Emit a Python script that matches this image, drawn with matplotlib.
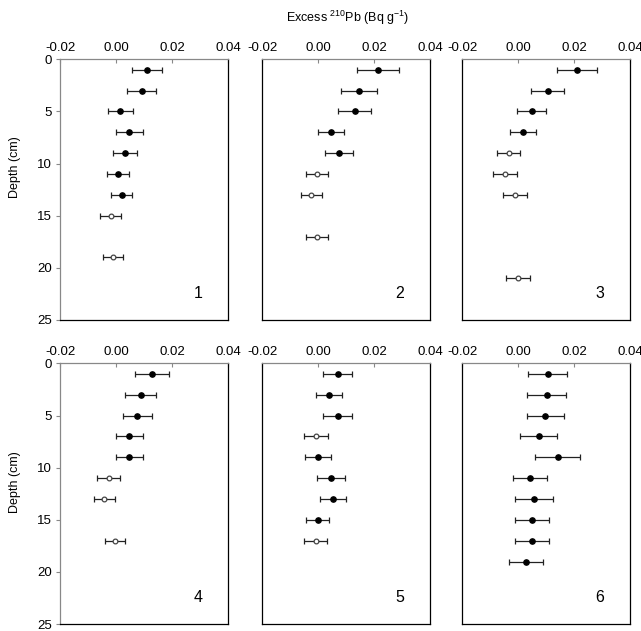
import matplotlib.pyplot as plt

plt.rcParams['font.family'] = ['Liberation Sans', 'DejaVu Sans']
plt.rcParams['mathtext.fontset'] = 'custom'
plt.rcParams['mathtext.rm'] = 'Liberation Sans'
plt.rcParams['mathtext.it'] = 'Liberation Sans'

# depth (cm), excess 210Pb (Bq g-1), error, open marker flag -- one set per core
depth1 = [1, 3, 5, 7, 9, 11, 13, 15, 19]
pb1 = [0.0110, 0.0091, 0.0015, 0.0047, 0.0031, 0.0006, 0.0019, -0.0020, -0.0012]
err1 = [0.0055, 0.0051, 0.0044, 0.0048, 0.0044, 0.0038, 0.0038, 0.0037, 0.0036]
open1 = [0, 0, 0, 0, 0, 0, 0, 1, 1]

depth2 = [1, 3, 5, 7, 9, 11, 13, 17]
pb2 = [0.0214, 0.0146, 0.0130, 0.0047, 0.0075, -0.0004, -0.0025, -0.0004]
err2 = [0.0076, 0.0064, 0.0060, 0.0047, 0.0050, 0.0040, 0.0038, 0.0040]
open2 = [0, 0, 0, 0, 0, 1, 1, 1]

depth3 = [1, 3, 5, 7, 9, 11, 13, 21]
pb3 = [0.0210, 0.0105, 0.0049, 0.0017, -0.0034, -0.0046, -0.0010, -0.0001]
err3 = [0.0072, 0.0059, 0.0052, 0.0046, 0.0041, 0.0043, 0.0043, 0.0044]
open3 = [0, 0, 0, 0, 1, 1, 1, 1]

depth4 = [1, 3, 5, 7, 9, 11, 13, 17]
pb4 = [0.0127, 0.0088, 0.0075, 0.0047, 0.0047, -0.0027, -0.0043, -0.0004]
err4 = [0.0060, 0.0055, 0.0052, 0.0047, 0.0049, 0.0040, 0.0037, 0.0036]
open4 = [0, 0, 0, 0, 0, 1, 1, 1]

depth5 = [1, 3, 5, 7, 9, 11, 13, 15, 17]
pb5 = [0.0070, 0.0038, 0.0070, -0.0008, -0.0001, 0.0046, 0.0054, -0.0001, -0.0008]
err5 = [0.0051, 0.0047, 0.0051, 0.0044, 0.0047, 0.0050, 0.0047, 0.0041, 0.0041]
open5 = [0, 0, 0, 1, 0, 0, 0, 0, 1]

depth6 = [1, 3, 5, 7, 9, 11, 13, 15, 17, 19]
pb6 = [0.0105, 0.0102, 0.0097, 0.0073, 0.0141, 0.0041, 0.0057, 0.0049, 0.0049, 0.0029]
err6 = [0.0071, 0.0069, 0.0067, 0.0067, 0.0080, 0.0061, 0.0067, 0.0060, 0.0060, 0.0061]
open6 = [0, 0, 0, 0, 0, 0, 0, 0, 0, 0]

cores = [
    (depth1, pb1, err1, open1),
    (depth2, pb2, err2, open2),
    (depth3, pb3, err3, open3),
    (depth4, pb4, err4, open4),
    (depth5, pb5, err5, open5),
    (depth6, pb6, err6, open6),
]
panel_labels = ['1', '2', '3', '4', '5', '6']
xticks = [-0.02, 0.00, 0.02, 0.04]
yticks = [0, 5, 10, 15, 20, 25]

fig = plt.figure(figsize=(6.41, 6.31), dpi=100)
lefts = [0.094, 0.409, 0.721]
bottoms = [0.493, 0.011]
w, h = 0.262, 0.413

for i, (d, x, e, op) in enumerate(cores):
    row, col = divmod(i, 3)
    ax = fig.add_axes([lefts[col], bottoms[row], w, h])
    ax.errorbar(x, d, xerr=e, fmt='none', ecolor='#222222', elinewidth=0.9,
                capsize=2.5, capthick=0.9, zorder=2)
    for xi, di, oi in zip(x, d, op):
        if oi:
            ax.plot(xi, di, 'o', ms=3.4, mfc='white', mec='#444444', mew=0.9, zorder=3)
        else:
            ax.plot(xi, di, 'o', ms=3.8, mfc='black', mec='black', zorder=3)
    ax.set_xlim(-0.02, 0.04)
    ax.set_ylim(25, 0)
    ax.xaxis.tick_top()
    ax.set_xticks(xticks)
    ax.set_xticklabels(['%.2f' % t for t in xticks], fontsize=9.5)
    ax.tick_params(axis='x', direction='in', length=3, pad=4, color='#888888')
    for s in ['right', 'bottom']:
        ax.spines[s].set_color('black')
    ax.spines['top'].set_color('#888888')
    if col == 0:
        ax.set_yticks(yticks)
        ax.set_yticklabels([str(t) for t in yticks], fontsize=9.5)
        ax.tick_params(axis='y', direction='out', length=3, pad=3, color='#888888')
        ax.spines['left'].set_color('#888888')
    else:
        ax.set_yticks([])
        ax.spines['left'].set_color('black')
    for s in ax.spines.values():
        s.set_linewidth(0.9)
    ax.text(0.82, 0.10, panel_labels[i], transform=ax.transAxes, fontsize=11.5,
            ha='center', va='center')

fig.text(0.543, 0.972, 'Excess $^{210}$Pb (Bq g$^{-1}$)', ha='center', va='center', fontsize=9)
fig.text(0.024, 1 - 167 / 631, 'Depth (cm)', rotation=90, ha='center', va='center', fontsize=9)
fig.text(0.024, 1 - 482 / 631, 'Depth (cm)', rotation=90, ha='center', va='center', fontsize=9)

fig.savefig('out.png', dpi=100)
